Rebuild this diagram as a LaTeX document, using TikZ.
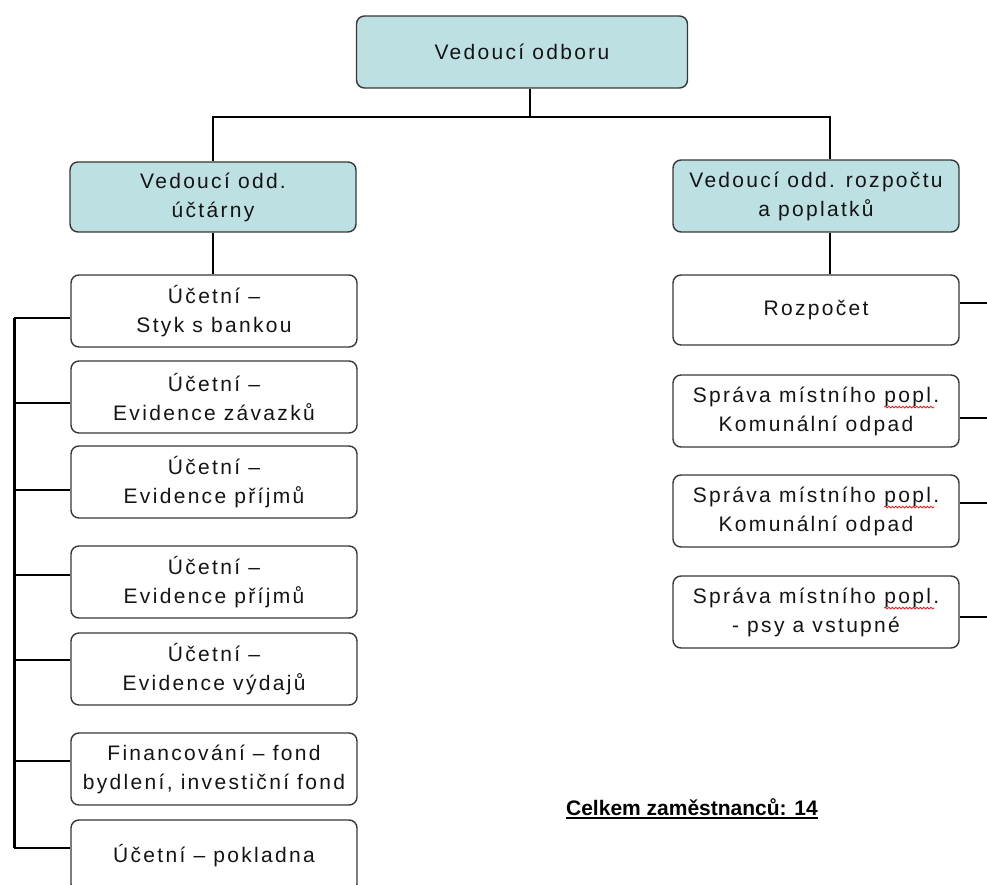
\documentclass[tikz,border=0pt]{standalone}
\usepackage{fontspec}
\setmainfont{Liberation Sans}
\newfontfamily\boxfont[LetterSpace=11]{Liberation Sans}
\usetikzlibrary{decorations.pathmorphing}
\definecolor{headfill}{RGB}{189,224,227}
\definecolor{boxline}{RGB}{55,55,55}
\definecolor{boxtext}{RGB}{20,20,20}
% spelling mark under "popl."
\newcommand{\popl}{\tikz[baseline=(w.base)]{\node[draw=none,fill=none,inner sep=0pt,minimum width=0pt,minimum height=0pt] (w) {popl.};
  \draw[red,line width=0.7pt,rounded corners=0pt,decorate,decoration={snake,amplitude=0.9pt,segment length=3.5pt}] ([yshift=-5pt]w.base west) -- ([yshift=-5pt,xshift=-5pt]w.base east);}}

\begin{document}
\begin{tikzpicture}[x=1pt,y=-1pt,
    unit/.style={draw=boxline,line width=1.4pt,rounded corners=8pt,align=center,
      minimum width=286pt,minimum height=72pt,inner sep=0pt,text=boxtext,
      font=\boxfont\fontsize{21}{29}\selectfont},
    head/.style={unit,fill=headfill},
    bus/.style={line width=2.6pt},
    trunk/.style={line width=3pt},
    link/.style={line width=1.4pt}]
  \useasboundingbox (0,0) rectangle (987,885);

  % heads
  \node[head,minimum width=331pt] (top) at (522,52) {Vedoucí odboru};
  \node[head,minimum height=70pt] (mida) at (213,197) {Vedoucí odd.\\účtárny};
  \node[head] (midb) at (816,196) {Vedoucí odd. rozpočtu\\a poplatků};

  \coordinate (busL) at (213,117);
  \coordinate (busM) at (530,117);
  \coordinate (busR) at (830,117);
  \draw[link] (top.south -| busM) -- (busM);
  \draw[bus] (busL |- mida.north) -- (busL) -- (busR) -- (busR |- midb.north);

  % left column
  \node[unit] (b1) at (214,311) {Účetní –\\Styk s bankou};
  \node[unit] (b2) at (214,397) {Účetní –\\Evidence závazků};
  \node[unit] (b3) at (214,482) {Účetní –\\Evidence příjmů};
  \node[unit] (b4) at (214,582) {Účetní –\\Evidence příjmů};
  \node[unit] (b5) at (214,669) {Účetní –\\Evidence výdajů};
  \node[unit] (b6) at (214,769) {Financování – fond\\bydlení, investiční fond};
  \node[unit] (b7) at (214,856) {Účetní – pokladna};

  \draw[link] (mida.south -| busL) -- (b1.north -| busL);

  \coordinate (s1) at (14,318);
  \coordinate (s2) at (14,403);
  \coordinate (s3) at (14,490);
  \coordinate (s4) at (14,575);
  \coordinate (s5) at (14,660);
  \coordinate (s6) at (14,761);
  \coordinate (s7) at (14,848);
  \draw[trunk] (s1) -- (s7);
  \foreach \i in {1,...,7}
    \draw[link] (s\i) -- (s\i -| b\i.west);

  % right column
  \node[unit,minimum height=70pt] (r1) at (816,310) {Rozpočet};
  \node[unit] (r2) at (816,411) {Správa místního \popl\\Komunální odpad};
  \node[unit] (r3) at (816,511) {Správa místního \popl\\Komunální odpad};
  \node[unit] (r4) at (816,612) {Správa místního \popl\\- psy a vstupné};

  \draw[link] (midb.south -| busR) -- (r1.north -| busR);

  \coordinate (t1) at (987,303);
  \coordinate (t2) at (987,418);
  \coordinate (t3) at (987,503);
  \coordinate (t4) at (987,617);
  \foreach \i in {1,...,4}
    \draw[link] (t\i -| r\i.east) -- (t\i);

  % total
  \node[inner sep=0pt,font=\bfseries\fontsize{21}{25}\selectfont] (total) at (692,807) {Celkem zaměstnanců: 14};
  \draw[line width=1.8pt] ([yshift=-3pt]total.base west) -- ([yshift=-3pt]total.base east);
\end{tikzpicture}
\end{document}
